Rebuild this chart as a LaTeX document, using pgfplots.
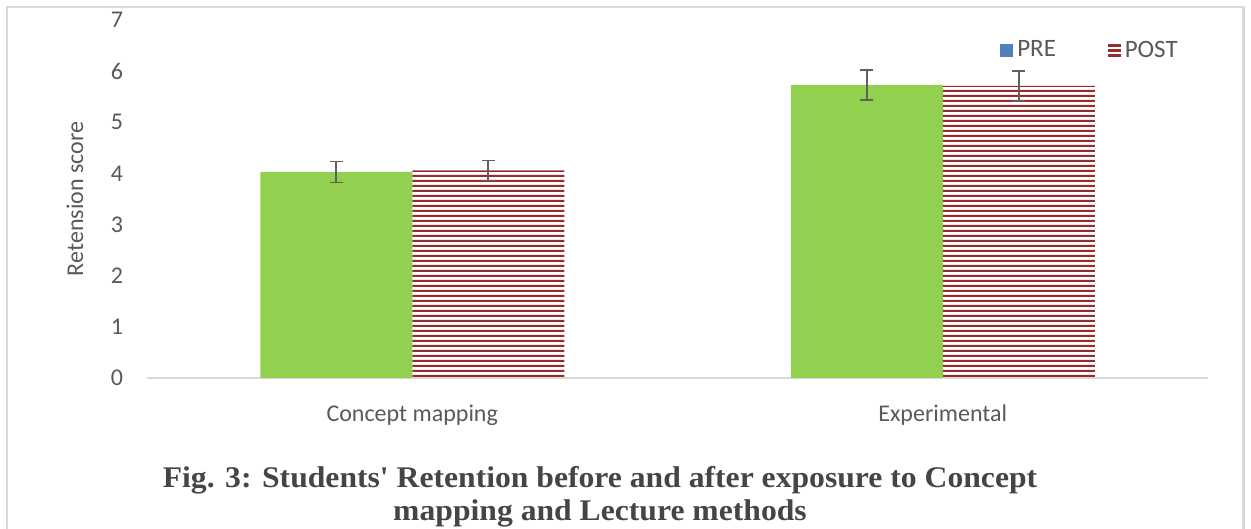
\documentclass[border=0pt]{standalone}
\usepackage{pgfplots}
\pgfplotsset{compat=1.18}
\usepackage{fontspec}
\setmainfont{Carlito}
\newfontfamily\titlefont{Liberation Serif}
\usetikzlibrary{patterns}
\pgfdeclarepatternformonly{hstripes}{\pgfqpoint{0pt}{0pt}}{\pgfqpoint{200pt}{2.3pt}}{\pgfqpoint{200pt}{2.3pt}}{%
  \pgfpathrectangle{\pgfqpoint{0pt}{0pt}}{\pgfqpoint{200pt}{1.2pt}}\pgfusepath{fill}}
\definecolor{framegray}{HTML}{D9D9D9}
\definecolor{txtgray}{HTML}{595959}
\definecolor{bargreen}{HTML}{92D050}
\definecolor{barred}{RGB}{150,45,45}
\definecolor{legblue}{HTML}{4F81BD}
\definecolor{errgray}{HTML}{606060}
\definecolor{titlegray}{HTML}{454545}
\begin{document}
\begin{tikzpicture}
\path[use as bounding box] (0,0) rectangle (625.5pt,264.5pt);
\draw[framegray, line width=1.1pt] (3.6pt,-5pt) -- (3.6pt,260.8pt) -- (621.7pt,260.8pt) -- (621.7pt,-5pt);
\begin{axis}[
  at={(73.5pt,75.5pt)}, anchor=south west,
  scale only axis, width=530.5pt, height=179pt,
  xmin=-0.5, xmax=1.5, ymin=0, ymax=7,
  ybar=0pt, bar width=76pt,
  axis x line*=bottom, axis y line*=left,
  y axis line style={draw=none},
  x axis line style={framegray, line width=0.8pt},
  major tick length=0pt,
  xtick={0,1}, xticklabels={Concept mapping, Experimental},
  ytick={0,1,...,7},
  /pgf/number format/assume math mode=true,
  tick label style={font=\fontsize{12}{14}\selectfont, text=txtgray},
  yticklabel style={xshift=-8.5pt},
  xticklabel style={yshift=-10pt},
  ylabel={Retension score},
  ylabel style={at={(axis description cs:-0.068,0.5)}, anchor=center, font=\fontsize{12}{14}\selectfont, text=txtgray},
  clip=false,
  legend columns=2,
  legend style={draw=none, fill=none, at={(0.804,0.915)}, anchor=west, inner sep=0pt,
    font=\fontsize{12.5}{14}\selectfont, text=txtgray,
    /tikz/every even column/.append style={column sep=24pt}},
  error bars/error bar style={errgray, line width=0.8pt},
  error bars/error mark options={errgray, rotate=90, mark size=3.2pt, line width=0.8pt},
]
\addlegendimage{legend image code/.code={\fill[legblue] (0pt,-3pt) rectangle (6pt,3pt);}}
\addlegendentry{PRE}
\addlegendimage{legend image code/.code={\fill[barred] (0pt,2pt) rectangle (6pt,3.2pt); \fill[barred] (0pt,-0.6pt) rectangle (6pt,0.6pt); \fill[barred] (0pt,-3.2pt) rectangle (6pt,-2pt);}}
\addlegendentry{POST}
\addplot[fill=bargreen, draw=none, forget plot, bar shift=-38pt,
  error bars/.cd, y dir=both, y explicit]
  coordinates {(0,4.03) +- (0,0.205) (1,5.73) +- (0,0.29)};
\addplot[pattern=hstripes, pattern color=barred, draw=none, forget plot, bar shift=38pt,
  error bars/.cd, y dir=both, y explicit]
  coordinates {(0,4.06) +- (0,0.195) (1,5.71) +- (0,0.295)};
\end{axis}
\node[anchor=base, text=titlegray, font=\titlefont\bfseries] at (300pt,20.5pt) {\scalebox{1.055}[1]{\fontsize{15}{15}\selectfont Fig. 3: Students' Retention before and after exposure to Concept}};
\node[anchor=base, text=titlegray, font=\titlefont\bfseries] at (300pt,4pt) {\scalebox{1.055}[1]{\fontsize{15}{15}\selectfont mapping and Lecture methods}};
\end{tikzpicture}
\end{document}
